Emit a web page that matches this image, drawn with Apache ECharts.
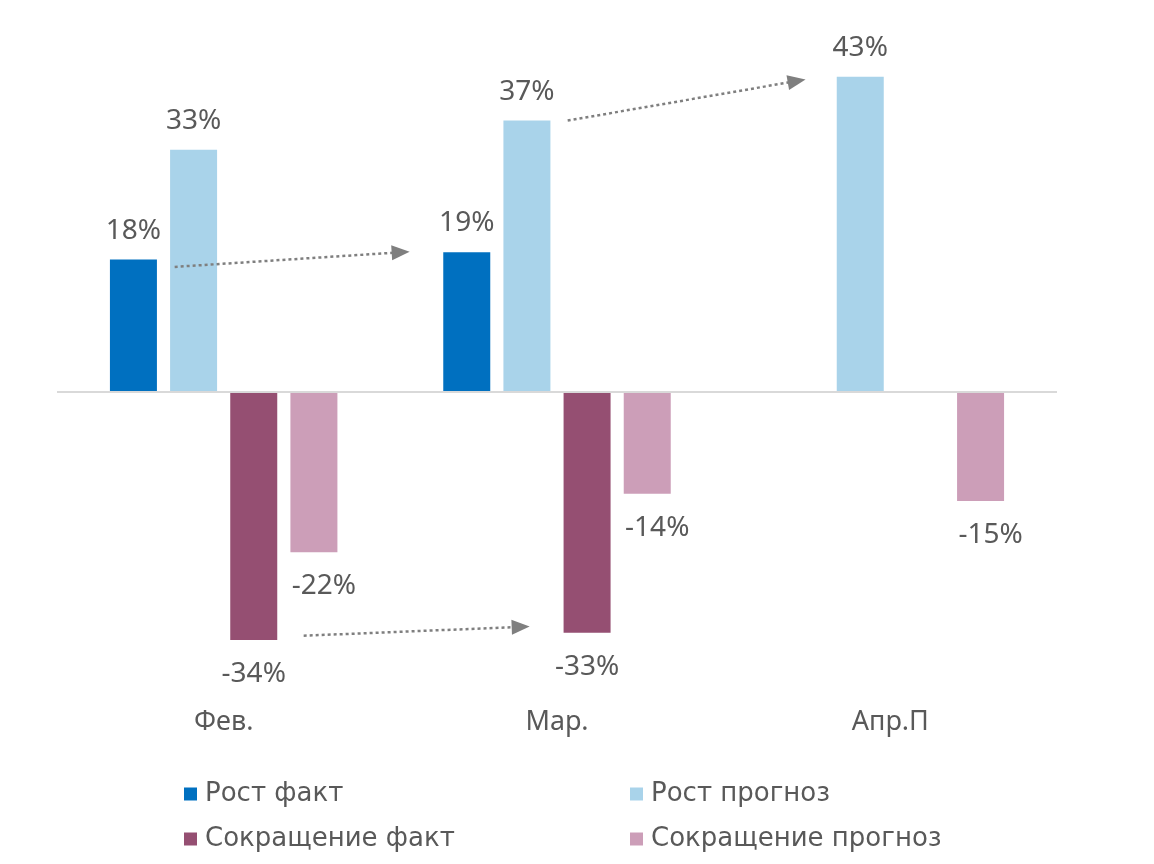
<!DOCTYPE html>
<html><head><meta charset="utf-8">
<script src="https://cdn.jsdelivr.net/npm/echarts@6/dist/echarts.min.js"></script>
<style>html,body{margin:0;padding:0;background:#fff}#c{width:1154px;height:864px}</style>
</head><body><div id="c"></div>
<script>
const categories = ['Фев.', 'Мар.', 'Апр.П'];
const seriesNames = ['Рост факт', 'Рост прогноз', 'Сокращение факт', 'Сокращение прогноз'];
const growthFact = [18, 19, null];
const growthForecast = [33, 37, 43];
const cutFact = [-34, -33, null];
const cutForecast = [-22, -14, -15];
// annotation arrows: [xStart, yStart, xEnd, yEnd] in (category index, %) units
const arrowTrend = [
  [-0.147, 17.0, 0.531, 19.0],
  [1.032, 37.0, 1.719, 42.4],
  [0.24, -33.4, 0.891, -32.2]
];

const colors = ['#0070C0', '#A9D3EA', '#954F72', '#CC9EB8'];
const txt = '#595959';
const labelFont = 'Noto Sans';

function barSeries(name, data, idx, neg) {
  return {
    name: name, type: 'bar', data: data, xAxisIndex: 0, yAxisIndex: 0,
    barWidth: 47, barGap: '28%',
    itemStyle: { color: colors[idx] },
    label: {
      show: true,
      position: neg ? 'bottom' : 'top',
      distance: neg ? 20 : 15,
      offset: idx === 3 ? [10, 0] : [0, 0],
      formatter: p => p.value + '%',
      color: txt, fontFamily: labelFont, fontSize: 28
    },
    emphasis: { disabled: true },
    silent: true
  };
}

const s = [
  barSeries(seriesNames[0], growthFact, 0, false),
  barSeries(seriesNames[1], growthForecast, 1, false),
  barSeries(seriesNames[2], cutFact, 2, true),
  barSeries(seriesNames[3], cutForecast, 3, true)
];
s[0].markLine = {
  silent: true, symbol: ['none', 'none'], label: { show: false },
  lineStyle: { color: '#d9d9d9', width: 2, type: 'solid' },
  data: [{ yAxis: 0 }], animation: false
};
s.push({
  type: 'line', xAxisIndex: 1, yAxisIndex: 0,
  data: arrowTrend.map(a => [a[0], a[1]]),
  showSymbol: false, lineStyle: { width: 0, opacity: 0 }, silent: true,
  markLine: {
    silent: true, symbol: ['none', 'triangle'], symbolSize: [15, 18],
    label: { show: false },
    lineStyle: { color: '#7f7f7f', width: 2.5, type: [3, 3] },
    itemStyle: { color: '#7f7f7f' },
    emphasis: { disabled: true },
    data: arrowTrend.map(a => [{ coord: [a[0], a[1]] }, { coord: [a[2], a[3]] }]),
    animation: false
  }
});

const legendText = { color: txt, fontFamily: 'DejaVu Sans', fontSize: 26, lineHeight: 26, padding: [0, 0, 0, 3] };

const chart = echarts.init(document.getElementById('c'));
chart.setOption({
  animation: false,
  backgroundColor: '#fff',
  grid: { left: 57, right: 97, top: 62, height: 622 },
  xAxis: [
    {
      type: 'category', data: categories,
      axisLine: { show: false, onZero: false }, axisTick: { show: false },
      axisLabel: { color: txt, fontFamily: labelFont, fontSize: 27, margin: 25 }
    },
    { type: 'value', min: -0.5, max: 2.5, show: false }
  ],
  yAxis: { type: 'value', min: -40, max: 45, show: false, splitLine: { show: false } },
  legend: [
    {
      data: [seriesNames[0], seriesNames[2]], orient: 'vertical', left: 179, top: 776,
      itemWidth: 13, itemHeight: 13, itemGap: 19, icon: 'rect',
      textStyle: legendText
    },
    {
      data: [seriesNames[1], seriesNames[3]], orient: 'vertical', left: 625, top: 776,
      itemWidth: 13, itemHeight: 13, itemGap: 19, icon: 'rect',
      textStyle: legendText
    }
  ],
  series: s
});
</script></body></html>
